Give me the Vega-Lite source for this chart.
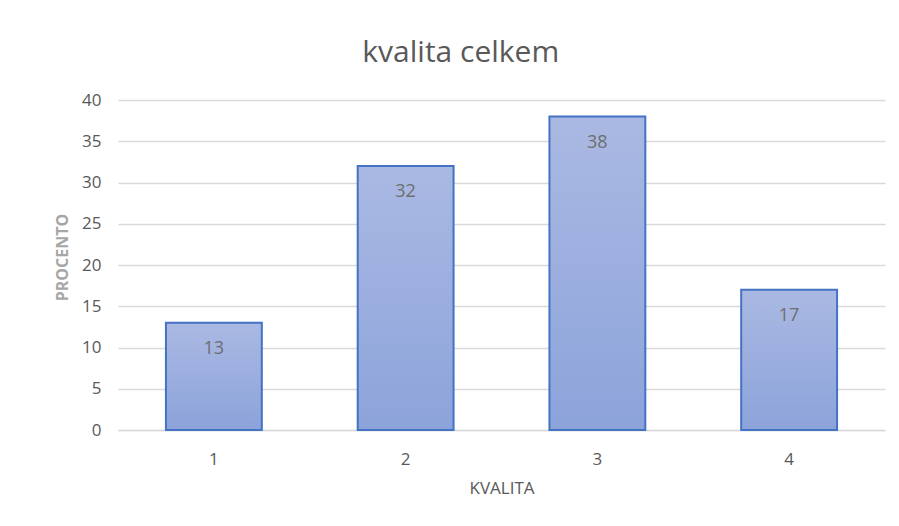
{
  "$schema": "https://vega.github.io/schema/vega-lite/v6.json",
  "autosize": {"type": "none"},
  "width": 767,
  "height": 330,
  "padding": {"left": 118, "top": 100, "right": 14, "bottom": 96},
  "background": "white",
  "config": {
    "font": "Open Sans",
    "view": {"stroke": null}
  },
  "title": {
    "text": "kvalita celkem",
    "fontSize": 30,
    "fontWeight": "normal",
    "color": "#595959",
    "anchor": "middle",
    "frame": "bounds",
    "dx": -9,
    "offset": 23
  },
  "data": {
    "values": [
      {"kvalita": "1", "procento": 13},
      {"kvalita": "2", "procento": 32},
      {"kvalita": "3", "procento": 38},
      {"kvalita": "4", "procento": 17}
    ]
  },
  "encoding": {
    "x": {
      "field": "kvalita",
      "type": "ordinal",
      "title": "KVALITA",
      "scale": {"paddingInner": 0.5, "paddingOuter": 0.25},
      "axis": {
        "labelAngle": 0,
        "labelFontSize": 17,
        "labelColor": "#595959",
        "labelPadding": 21,
        "ticks": false,
        "domainColor": "#D9D9D9",
        "domainWidth": 1.5,
        "titleFontSize": 17,
        "titleFontWeight": "normal",
        "titleColor": "#595959",
        "titlePadding": 13
      }
    },
    "y": {
      "field": "procento",
      "type": "quantitative",
      "title": "PROCENTO",
      "scale": {"domain": [0, 40]},
      "axis": {
        "values": [0, 5, 10, 15, 20, 25, 30, 35, 40],
        "labelFontSize": 17,
        "labelColor": "#595959",
        "labelPadding": 17,
        "ticks": false,
        "domain": false,
        "gridColor": "#D9D9D9",
        "gridWidth": 1.5,
        "titleFontSize": 16,
        "titleFontWeight": "bold",
        "titleColor": "#A6A6A6",
        "titlePadding": 11,
        "titleY": 157
      }
    }
  },
  "layer": [
    {
      "mark": {
        "type": "bar",
        "stroke": "#4472C4",
        "strokeWidth": 2,
        "color": {
          "gradient": "linear",
          "x1": 0, "y1": 0, "x2": 0, "y2": 1,
          "stops": [
            {"offset": 0, "color": "#AAB9E3"},
            {"offset": 1, "color": "#8CA3DA"}
          ]
        }
      }
    },
    {
      "mark": {
        "type": "text",
        "baseline": "middle",
        "dy": 26,
        "fontSize": 18,
        "color": "#6E6E6E"
      },
      "encoding": {"text": {"field": "procento", "type": "quantitative"}}
    }
  ]
}
